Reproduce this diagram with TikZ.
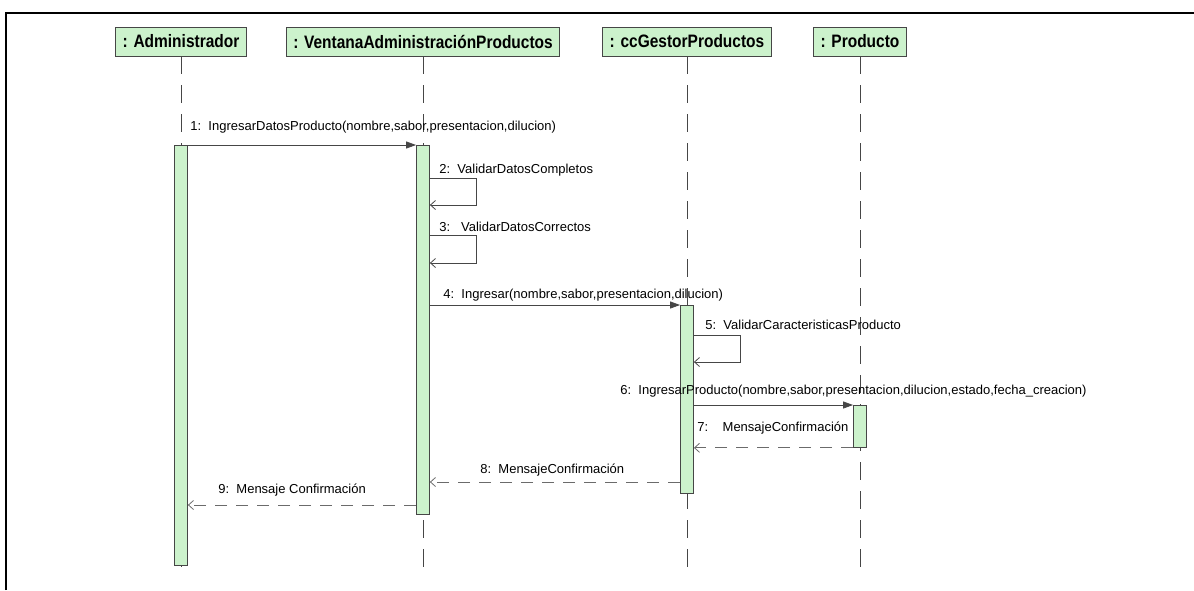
\documentclass[tikz,border=0pt]{standalone}
\usepackage{fontspec}
\setmainfont{Liberation Sans}
\newfontfamily\headfont[FakeStretch=0.86]{Liberation Sans}
\usetikzlibrary{arrows.meta}

\definecolor{objfill}{RGB}{204,242,204}
\definecolor{umlline}{RGB}{70,70,70}

\begin{document}
\begin{tikzpicture}[x=1pt,y=-1pt,line width=0.8pt,
  obj/.style={draw=umlline,fill=objfill,minimum height=29pt,inner xsep=7pt,inner ysep=2pt,font=\headfont\bfseries\fontsize{18}{20}\selectfont},
  act/.style={draw=umlline,fill=objfill,minimum width=13pt,inner sep=0pt,anchor=north},
  life/.style={draw=umlline,dash pattern=on 18pt off 11pt},
  call/.style={draw=umlline,-{Triangle[length=10pt,width=7pt]}},
  reply/.style={draw=umlline!80,dash pattern=on 12pt off 9pt,-{Straight Barb[length=5pt,width=9pt]}},
  self/.style={draw=umlline,-{Straight Barb[length=5pt,width=9pt]}},
  msg/.style={anchor=west,inner sep=0pt,font=\fontsize{13}{15}\selectfont}]

  \useasboundingbox (0,0) rectangle (1194,590);
  \draw[black,line width=2pt] (6,590) -- (6,13) -- (1194,13);

  \node[obj] (adm) at (181,41.5) {: Administrador};
  \node[obj] (win) at (423,41.5) {: VentanaAdministraciónProductos};
  \node[obj] (gst) at (687,41.5) {: ccGestorProductos};
  \node[obj] (prd) at (860,41.5) {: Producto};

  \coordinate (bottom) at (0,573);
  \foreach \o in {adm,win,gst,prd}
    \draw[life] (\o.south) -- (\o |- bottom);

  \node[act,minimum height=420pt] (actA) at (181,145) {};
  \node[act,minimum height=369pt] (actV) at (423,145) {};
  \node[act,minimum height=188pt] (actG) at (687,305) {};
  \node[act,minimum height=42pt] (actP) at (860,405) {};

  % calls
  \draw[call] (actA.north east) -- (actV.north west);
  \draw[call] (actV.east |- actG.north) -- (actG.north west);
  \draw[call] (actG.east |- actP.north) -- (actP.north west);

  % self calls
  \draw[self] (actV.east |- 0,178) -- ++(46,0) -- ++(0,27) -- (actV.east |- 0,205);
  \draw[self] (actV.east |- 0,235) -- ++(46,0) -- ++(0,28) -- (actV.east |- 0,263);
  \draw[self] (actG.east |- 0,335) -- ++(46,0) -- ++(0,27) -- (actG.east |- 0,362);

  % returns
  \draw[reply] (actP.south west) -- (actG.east |- actP.south);
  \draw[reply] (actG.west |- 0,482) -- (actV.east |- 0,482);
  \draw[reply] (actV.west |- 0,505) -- (actA.east |- 0,505);

  \node[msg] (m1) at (190,127) {1:\ \ IngresarDatosProducto(nombre,sabor,presentacion,dilucion)};
  \node[msg] (m2) at (439,170) {2:\ \ ValidarDatosCompletos};
  \node[msg] (m3) at (439,227) {3:\ \ \ ValidarDatosCorrectos};
  \node[msg] (m4) at (443,295) {4:\ \ Ingresar(nombre,sabor,presentacion,dilucion)};
  \node[msg] (m5) at (705,325) {5:\ \ ValidarCaracteristicasProducto};
  \node[msg] (m6) at (620,391) {6:\ \ IngresarProducto(nombre,sabor,presentacion,dilucion,estado,fecha\_creacion)};
  \node[msg] (m7) at (697,428) {7:\ \ \ \ MensajeConfirmación};
  \node[msg] (m8) at (480,470) {8:\ \ MensajeConfirmación};
  \node[msg] (m9) at (218,490) {9:\ \ Mensaje Confirmación};

\end{tikzpicture}
\end{document}
